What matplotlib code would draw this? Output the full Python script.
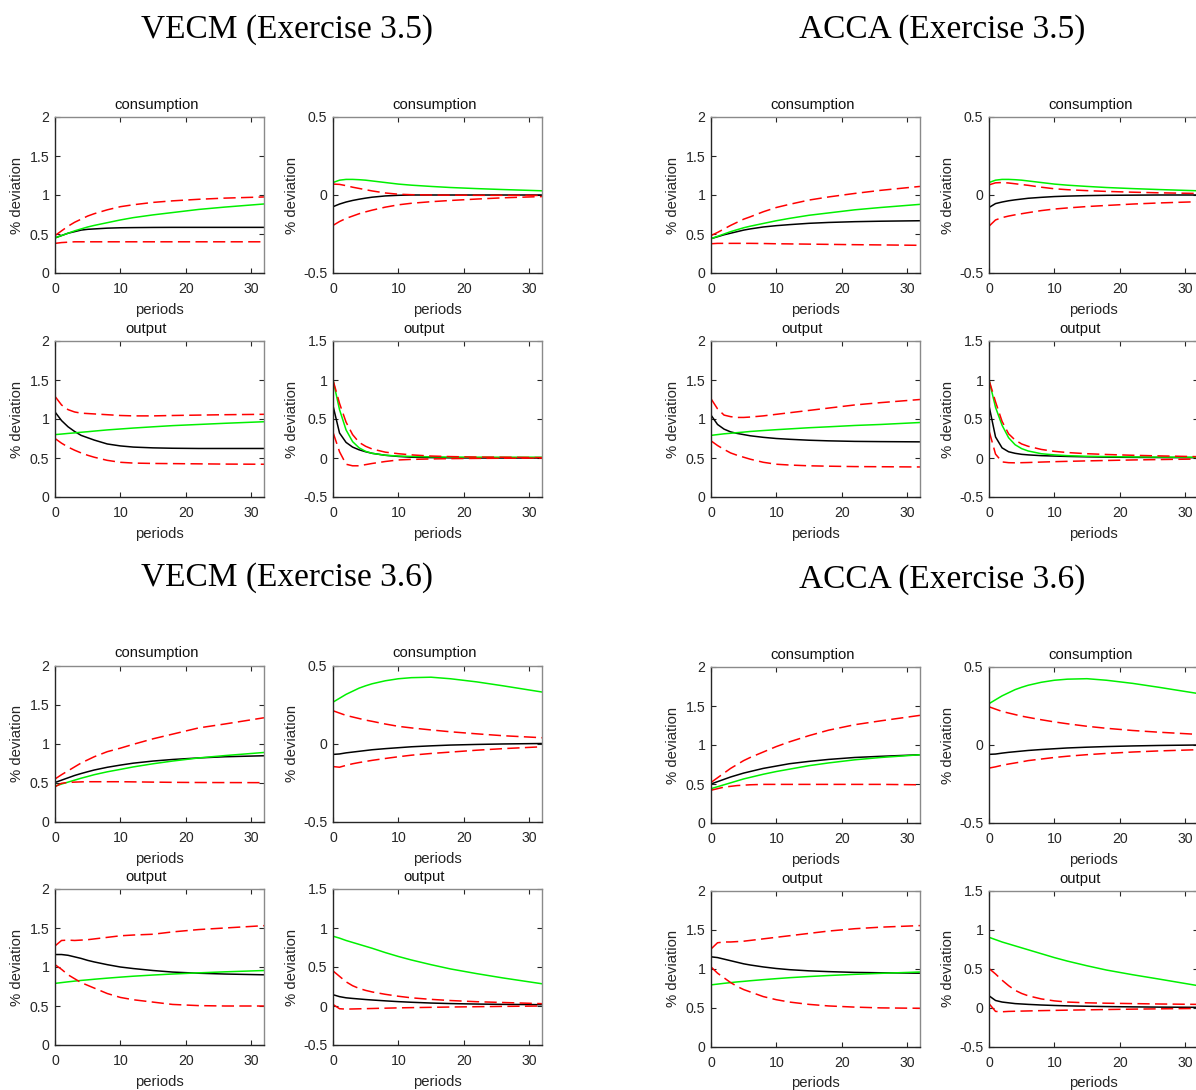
import matplotlib
matplotlib.use("Agg")
import matplotlib.pyplot as plt

plt.rcParams["font.family"] = ["Liberation Sans", "DejaVu Sans"]

# ---------------------------------------------------------------- data
periods = [0, 1, 2, 3, 4, 5, 6, 8, 10, 12, 15, 18, 22, 26, 32]

x_ticks = [0, 10, 20, 30]
x_tick_labels = ["0", "10", "20", "30"]
y_ticks_pos = [0, 0.5, 1, 1.5, 2]
y_tick_labels_pos = ["0", "0.5", "1", "1.5", "2"]
y_ticks_cons2 = [-0.5, 0, 0.5]
y_tick_labels_cons2 = ["-0.5", "0", "0.5"]
y_ticks_out2 = [-0.5, 0, 0.5, 1, 1.5]
y_tick_labels_out2 = ["-0.5", "0", "0.5", "1", "1.5"]

block_titles = ["VECM (Exercise 3.5)", "ACCA (Exercise 3.5)",
                "VECM (Exercise 3.6)", "ACCA (Exercise 3.6)"]
row_titles = ["consumption", "output"]

# VECM, Exercise 3.5
vecm35_c1_est = [0.45, 0.48, 0.51, 0.53, 0.55, 0.56, 0.565, 0.575, 0.58, 0.582, 0.584, 0.585, 0.585, 0.585, 0.585]
vecm35_c1_hi = [0.48, 0.54, 0.60, 0.65, 0.69, 0.73, 0.76, 0.81, 0.85, 0.875, 0.905, 0.925, 0.945, 0.96, 0.975]
vecm35_c1_lo = [0.38, 0.39, 0.395, 0.40, 0.40, 0.40, 0.40, 0.40, 0.40, 0.40, 0.40, 0.40, 0.40, 0.40, 0.40]
vecm35_c1_mod = [0.45, 0.48, 0.51, 0.54, 0.565, 0.59, 0.61, 0.645, 0.68, 0.71, 0.745, 0.775, 0.815, 0.845, 0.885]
vecm35_c2_est = [-0.075, -0.058, -0.045, -0.035, -0.027, -0.02, -0.014, -0.006, -0.002, 0, 0, 0, 0, 0, 0]
vecm35_c2_hi = [0.07, 0.068, 0.06, 0.05, 0.042, 0.034, 0.026, 0.013, 0.005, 0.002, 0, -0.001, -0.002, -0.002, -0.003]
vecm35_c2_lo = [-0.195, -0.17, -0.15, -0.135, -0.12, -0.108, -0.097, -0.078, -0.063, -0.053, -0.043, -0.035, -0.026, -0.018, -0.01]
vecm35_c2_mod = [0.08, 0.095, 0.10, 0.10, 0.098, 0.095, 0.09, 0.08, 0.07, 0.063, 0.055, 0.048, 0.041, 0.035, 0.027]
vecm35_y1_est = [1.09, 0.98, 0.9, 0.84, 0.79, 0.76, 0.73, 0.68, 0.655, 0.64, 0.63, 0.625, 0.622, 0.622, 0.622]
vecm35_y1_hi = [1.29, 1.18, 1.12, 1.09, 1.075, 1.07, 1.065, 1.055, 1.045, 1.04, 1.04, 1.045, 1.05, 1.055, 1.06]
vecm35_y1_lo = [0.75, 0.69, 0.64, 0.60, 0.565, 0.535, 0.51, 0.47, 0.445, 0.435, 0.43, 0.428, 0.425, 0.422, 0.42]
vecm35_y1_mod = [0.80, 0.807, 0.815, 0.822, 0.83, 0.837, 0.845, 0.86, 0.872, 0.884, 0.9, 0.915, 0.93, 0.945, 0.965]
vecm35_y2_est = [0.67, 0.32, 0.2, 0.14, 0.105, 0.08, 0.06, 0.035, 0.02, 0.01, 0.005, 0.002, 0, 0, 0]
vecm35_y2_hi = [1.0, 0.7, 0.46, 0.3, 0.2, 0.15, 0.115, 0.075, 0.055, 0.04, 0.025, 0.018, 0.012, 0.01, 0.005]
vecm35_y2_lo = [0.33, 0.08, -0.08, -0.1, -0.1, -0.085, -0.07, -0.045, -0.025, -0.018, -0.012, -0.008, -0.005, -0.003, 0]
vecm35_y2_mod = [1.0, 0.62, 0.36, 0.21, 0.13, 0.085, 0.06, 0.035, 0.025, 0.02, 0.015, 0.012, 0.01, 0.01, 0.01]

# ACCA, Exercise 3.5
acca35_c1_est = [0.44, 0.465, 0.49, 0.51, 0.53, 0.55, 0.565, 0.59, 0.607, 0.62, 0.637, 0.648, 0.658, 0.664, 0.67]
acca35_c1_hi = [0.48, 0.52, 0.565, 0.61, 0.65, 0.69, 0.72, 0.785, 0.84, 0.88, 0.935, 0.975, 1.02, 1.06, 1.11]
acca35_c1_lo = [0.375, 0.38, 0.38, 0.38, 0.38, 0.38, 0.38, 0.378, 0.375, 0.373, 0.37, 0.367, 0.363, 0.36, 0.355]
acca35_c1_mod = [0.44, 0.47, 0.5, 0.53, 0.555, 0.58, 0.6, 0.635, 0.67, 0.70, 0.74, 0.77, 0.81, 0.84, 0.88]
acca35_c2_est = [-0.08, -0.055, -0.045, -0.037, -0.031, -0.026, -0.021, -0.015, -0.01, -0.007, -0.004, -0.002, -0.001, 0, 0]
acca35_c2_hi = [0.065, 0.078, 0.08, 0.077, 0.072, 0.067, 0.062, 0.05, 0.04, 0.034, 0.028, 0.023, 0.018, 0.014, 0.01]
acca35_c2_lo = [-0.2, -0.16, -0.145, -0.135, -0.127, -0.12, -0.113, -0.1, -0.09, -0.083, -0.074, -0.067, -0.058, -0.051, -0.043]
acca35_c2_mod = [0.08, 0.095, 0.10, 0.10, 0.098, 0.095, 0.09, 0.08, 0.07, 0.063, 0.055, 0.048, 0.041, 0.035, 0.027]
acca35_y1_est = [1.05, 0.93, 0.87, 0.835, 0.815, 0.8, 0.785, 0.765, 0.75, 0.74, 0.728, 0.72, 0.713, 0.71, 0.707]
acca35_y1_hi = [1.26, 1.13, 1.05, 1.03, 1.02, 1.02, 1.025, 1.04, 1.06, 1.08, 1.11, 1.14, 1.18, 1.21, 1.25]
acca35_y1_lo = [0.72, 0.66, 0.61, 0.565, 0.535, 0.51, 0.485, 0.445, 0.42, 0.41, 0.4, 0.395, 0.39, 0.388, 0.385]
acca35_y1_mod = [0.79, 0.80, 0.81, 0.817, 0.825, 0.832, 0.84, 0.852, 0.863, 0.873, 0.888, 0.9, 0.917, 0.93, 0.955]
acca35_y2_est = [0.67, 0.27, 0.13, 0.08, 0.06, 0.047, 0.04, 0.03, 0.025, 0.02, 0.015, 0.011, 0.008, 0.006, 0.004]
acca35_y2_hi = [1.0, 0.72, 0.47, 0.31, 0.23, 0.18, 0.15, 0.11, 0.085, 0.07, 0.055, 0.045, 0.035, 0.027, 0.017]
acca35_y2_lo = [0.35, 0.05, -0.05, -0.06, -0.062, -0.06, -0.058, -0.052, -0.047, -0.043, -0.037, -0.032, -0.025, -0.02, -0.013]
acca35_y2_mod = [1.0, 0.65, 0.42, 0.26, 0.17, 0.12, 0.09, 0.055, 0.04, 0.03, 0.022, 0.018, 0.014, 0.012, 0.01]

# VECM, Exercise 3.6
vecm36_c1_est = [0.5, 0.53, 0.56, 0.59, 0.615, 0.638, 0.66, 0.695, 0.723, 0.748, 0.775, 0.795, 0.815, 0.83, 0.843]
vecm36_c1_hi = [0.545, 0.6, 0.65, 0.7, 0.75, 0.79, 0.83, 0.895, 0.94, 0.99, 1.06, 1.12, 1.2, 1.25, 1.33]
vecm36_c1_lo = [0.445, 0.49, 0.5, 0.505, 0.508, 0.51, 0.51, 0.51, 0.51, 0.508, 0.505, 0.502, 0.5, 0.499, 0.498]
vecm36_c1_mod = [0.455, 0.48, 0.505, 0.53, 0.555, 0.577, 0.6, 0.637, 0.668, 0.7, 0.74, 0.775, 0.815, 0.845, 0.885]
vecm36_c2_est = [-0.07, -0.067, -0.06, -0.055, -0.05, -0.045, -0.04, -0.033, -0.027, -0.021, -0.015, -0.01, -0.006, -0.003, 0]
vecm36_c2_hi = [0.21, 0.195, 0.18, 0.17, 0.16, 0.15, 0.142, 0.125, 0.11, 0.1, 0.087, 0.075, 0.062, 0.05, 0.037]
vecm36_c2_lo = [-0.148, -0.152, -0.14, -0.13, -0.122, -0.115, -0.108, -0.096, -0.085, -0.075, -0.064, -0.055, -0.043, -0.033, -0.021]
vecm36_c2_mod = [0.265, 0.29, 0.315, 0.335, 0.355, 0.37, 0.383, 0.402, 0.415, 0.422, 0.425, 0.415, 0.395, 0.37, 0.33]
vecm36_y1_est = [1.16, 1.16, 1.15, 1.13, 1.11, 1.085, 1.065, 1.03, 1.0, 0.98, 0.955, 0.935, 0.92, 0.91, 0.9]
vecm36_y1_hi = [1.27, 1.34, 1.345, 1.34, 1.345, 1.35, 1.36, 1.38, 1.4, 1.41, 1.42, 1.45, 1.48, 1.5, 1.53]
vecm36_y1_lo = [1.03, 0.97, 0.9, 0.85, 0.8, 0.765, 0.73, 0.66, 0.61, 0.58, 0.55, 0.52, 0.505, 0.5, 0.5]
vecm36_y1_mod = [0.79, 0.80, 0.81, 0.819, 0.828, 0.835, 0.843, 0.857, 0.87, 0.882, 0.897, 0.91, 0.925, 0.938, 0.955]
vecm36_y2_est = [0.145, 0.12, 0.105, 0.097, 0.09, 0.083, 0.077, 0.066, 0.056, 0.048, 0.038, 0.031, 0.025, 0.021, 0.017]
vecm36_y2_hi = [0.45, 0.38, 0.31, 0.26, 0.225, 0.2, 0.18, 0.15, 0.125, 0.105, 0.085, 0.07, 0.055, 0.045, 0.03]
vecm36_y2_lo = [0.02, -0.035, -0.04, -0.038, -0.036, -0.034, -0.032, -0.028, -0.024, -0.021, -0.017, -0.013, -0.009, -0.005, 0]
vecm36_y2_mod = [0.895, 0.87, 0.84, 0.815, 0.79, 0.765, 0.74, 0.685, 0.635, 0.59, 0.53, 0.475, 0.415, 0.36, 0.285]

# ACCA, Exercise 3.6
acca36_c1_est = [0.5, 0.53, 0.56, 0.59, 0.615, 0.64, 0.66, 0.7, 0.73, 0.76, 0.79, 0.815, 0.84, 0.855, 0.875]
acca36_c1_hi = [0.52, 0.58, 0.64, 0.7, 0.75, 0.8, 0.84, 0.91, 0.98, 1.04, 1.12, 1.19, 1.26, 1.31, 1.38]
acca36_c1_lo = [0.42, 0.44, 0.46, 0.47, 0.48, 0.485, 0.49, 0.495, 0.495, 0.495, 0.495, 0.495, 0.495, 0.495, 0.49]
acca36_c1_mod = [0.44, 0.465, 0.49, 0.515, 0.54, 0.565, 0.585, 0.625, 0.66, 0.69, 0.735, 0.77, 0.81, 0.84, 0.875]
acca36_c2_est = [-0.06, -0.058, -0.052, -0.047, -0.043, -0.039, -0.035, -0.029, -0.024, -0.019, -0.014, -0.01, -0.006, -0.003, 0]
acca36_c2_hi = [0.245, 0.23, 0.215, 0.205, 0.195, 0.185, 0.177, 0.162, 0.148, 0.136, 0.12, 0.107, 0.093, 0.082, 0.068]
acca36_c2_lo = [-0.148, -0.14, -0.13, -0.122, -0.115, -0.108, -0.1, -0.09, -0.08, -0.072, -0.062, -0.054, -0.045, -0.038, -0.03]
acca36_c2_mod = [0.265, 0.29, 0.315, 0.335, 0.355, 0.37, 0.383, 0.402, 0.415, 0.422, 0.425, 0.415, 0.395, 0.37, 0.33]
acca36_y1_est = [1.15, 1.14, 1.12, 1.1, 1.08, 1.06, 1.045, 1.02, 1.0, 0.985, 0.97, 0.96, 0.95, 0.945, 0.94]
acca36_y1_hi = [1.25, 1.33, 1.34, 1.34, 1.345, 1.35, 1.36, 1.38, 1.4, 1.42, 1.45, 1.48, 1.51, 1.53, 1.55]
acca36_y1_lo = [1.02, 0.94, 0.88, 0.82, 0.77, 0.73, 0.7, 0.64, 0.6, 0.57, 0.54, 0.52, 0.505, 0.495, 0.49]
acca36_y1_mod = [0.79, 0.80, 0.81, 0.819, 0.828, 0.835, 0.843, 0.857, 0.87, 0.882, 0.897, 0.91, 0.925, 0.938, 0.955]
acca36_y2_est = [0.15, 0.09, 0.07, 0.06, 0.05, 0.045, 0.04, 0.032, 0.026, 0.021, 0.016, 0.012, 0.008, 0.005, 0.002]
acca36_y2_hi = [0.5, 0.43, 0.35, 0.28, 0.22, 0.18, 0.15, 0.11, 0.085, 0.07, 0.06, 0.055, 0.05, 0.045, 0.04]
acca36_y2_lo = [0.05, -0.05, -0.055, -0.05, -0.048, -0.046, -0.044, -0.04, -0.037, -0.034, -0.03, -0.026, -0.021, -0.017, -0.012]
acca36_y2_mod = [0.9, 0.87, 0.84, 0.815, 0.79, 0.765, 0.74, 0.69, 0.64, 0.595, 0.535, 0.48, 0.42, 0.365, 0.28]

# ---------------------------------------------------------------- layout
W, H = 1196, 1090
fig = plt.figure(figsize=(W / 100, H / 100), dpi=100)
fig.patch.set_facecolor("white")

AX_W, AX_H = 209, 156
TXT = "#262626"


def add_px_axes(left, top):
    return fig.add_axes([left / W, 1 - (top + AX_H) / H, AX_W / W, AX_H / H])


def draw_panel(ax, est, lo, hi, mod, ylim, yticks, yticklabels, title, title_dx):
    ax.plot(periods, est, color="black", lw=1.1)
    ax.plot(periods, mod, color="#00f000", lw=1.1)
    ax.plot(periods, hi, color="#ff0000", lw=1.1, dashes=(8, 3.5))
    ax.plot(periods, lo, color="#ff0000", lw=1.1, dashes=(8, 3.5))
    ax.set_xlim(0, 32)
    ax.set_ylim(*ylim)
    ax.set_xticks(x_ticks)
    ax.set_xticklabels(x_tick_labels)
    ax.set_yticks(yticks)
    ax.set_yticklabels(yticklabels)
    ax.tick_params(direction="in", top=True, right=True, length=3.5, width=0.8,
                   labelsize=10.2, color=TXT, labelcolor=TXT)
    ax.tick_params(axis="x", pad=6.5)
    ax.tick_params(axis="y", pad=4)
    for side in ("left", "bottom"):
        ax.spines[side].set_color(TXT)
        ax.spines[side].set_linewidth(1.0)
    for side in ("top", "right"):
        ax.spines[side].set_color("#8a8a8a")
        ax.spines[side].set_linewidth(1.0)
    ax.text(0.5 + title_dx / AX_W, 1 + 12 / AX_H, title, transform=ax.transAxes,
            ha="center", va="center", fontsize=10.7, color="#111111")
    ax.text(0.5, -37 / AX_H, "periods", transform=ax.transAxes,
            ha="center", va="center", fontsize=10.7, color=TXT)
    ylab_dx = 38 if ylim[0] >= 0 else 41
    ax.text(-ylab_dx / AX_W, 0.5, "% deviation", transform=ax.transAxes, rotation=90,
            ha="center", va="center", fontsize=10.7, color=TXT)


blocks = [
    # (title, title centre x, title y, column lefts, row tops, series)
    (block_titles[0], 287, 30, (55, 333), (117, 341),
     [(vecm35_c1_est, vecm35_c1_lo, vecm35_c1_hi, vecm35_c1_mod),
      (vecm35_c2_est, vecm35_c2_lo, vecm35_c2_hi, vecm35_c2_mod),
      (vecm35_y1_est, vecm35_y1_lo, vecm35_y1_hi, vecm35_y1_mod),
      (vecm35_y2_est, vecm35_y2_lo, vecm35_y2_hi, vecm35_y2_mod)]),
    (block_titles[1], 942, 30, (711, 989), (117, 341),
     [(acca35_c1_est, acca35_c1_lo, acca35_c1_hi, acca35_c1_mod),
      (acca35_c2_est, acca35_c2_lo, acca35_c2_hi, acca35_c2_mod),
      (acca35_y1_est, acca35_y1_lo, acca35_y1_hi, acca35_y1_mod),
      (acca35_y2_est, acca35_y2_lo, acca35_y2_hi, acca35_y2_mod)]),
    (block_titles[2], 287, 578, (55, 333), (665.5, 889),
     [(vecm36_c1_est, vecm36_c1_lo, vecm36_c1_hi, vecm36_c1_mod),
      (vecm36_c2_est, vecm36_c2_lo, vecm36_c2_hi, vecm36_c2_mod),
      (vecm36_y1_est, vecm36_y1_lo, vecm36_y1_hi, vecm36_y1_mod),
      (vecm36_y2_est, vecm36_y2_lo, vecm36_y2_hi, vecm36_y2_mod)]),
    (block_titles[3], 942, 580, (711, 989), (667, 890.5),
     [(acca36_c1_est, acca36_c1_lo, acca36_c1_hi, acca36_c1_mod),
      (acca36_c2_est, acca36_c2_lo, acca36_c2_hi, acca36_c2_mod),
      (acca36_y1_est, acca36_y1_lo, acca36_y1_hi, acca36_y1_mod),
      (acca36_y2_est, acca36_y2_lo, acca36_y2_hi, acca36_y2_mod)]),
]

panel_scales = [
    ((0, 2), y_ticks_pos, y_tick_labels_pos),
    ((-0.5, 0.5), y_ticks_cons2, y_tick_labels_cons2),
    ((0, 2), y_ticks_pos, y_tick_labels_pos),
    ((-0.5, 1.5), y_ticks_out2, y_tick_labels_out2),
]

for title, tx, ty, lefts, tops, series in blocks:
    fig.text(tx / W, 1 - ty / H, title, ha="center", va="center",
             fontsize=24, family="Liberation Serif", color="black")
    for k, (est, lo, hi, mod) in enumerate(series):
        r, c = divmod(k, 2)
        ax = add_px_axes(lefts[c], tops[r])
        ylim, yt, ytl = panel_scales[k]
        dx = -2.5 if r == 0 else -13
        draw_panel(ax, est, lo, hi, mod, ylim, yt, ytl, row_titles[r], dx)

fig.savefig("out.png", dpi=100, facecolor="white")
